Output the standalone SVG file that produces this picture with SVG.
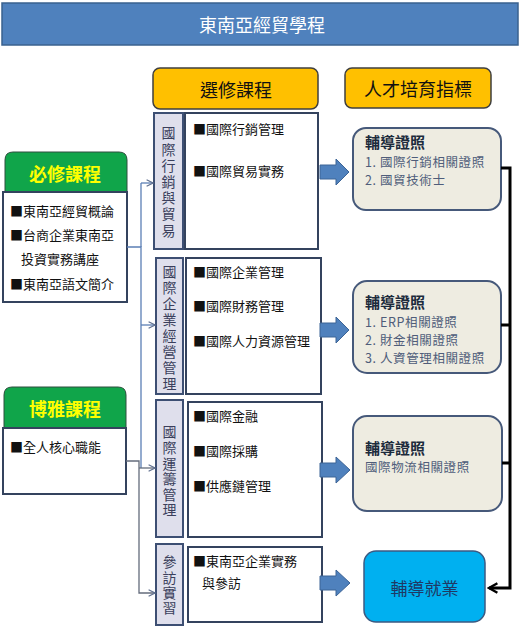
<svg xmlns="http://www.w3.org/2000/svg" width="527" height="631" viewBox="0 0 527 631">
<defs>
<style>
text{font-family:"Noto Sans CJK TC","Noto Sans CJK SC",sans-serif;}
.head{fill:#FFC000;stroke:#3f3f3f;stroke-width:1.5;}
.headt{font-size:18px;fill:#111;text-anchor:middle;dominant-baseline:central;}
.green{fill:#10A54A;stroke:#2f4f3f;stroke-width:1;}
.greent{font-size:18px;font-weight:bold;fill:#FFFF00;text-anchor:middle;dominant-baseline:central;}
.box{fill:#fff;stroke:#34435e;stroke-width:2;}
.lab{fill:#DFDFEC;stroke:#3d4f73;stroke-width:2;}
.labt{font-size:14px;fill:#3b3f5c;writing-mode:vertical-rl;text-anchor:start;}
.item{font-size:13px;fill:#111;dominant-baseline:central;}
.cert{fill:#EEECE1;stroke:#46597a;stroke-width:2;}
.certh{font-size:15px;font-weight:bold;fill:#1c2b3c;dominant-baseline:central;}
.certt{font-size:12.5px;letter-spacing:0.6px;fill:#4f5d7a;dominant-baseline:central;}
.barrow{fill:#4F81BD;stroke:#3c6496;stroke-width:1;}
.thin{fill:none;stroke-width:1.3;}
</style>
<marker id="open" viewBox="0 0 10 10" refX="9" refY="5" markerWidth="8" markerHeight="8" markerUnits="userSpaceOnUse" orient="auto">
<path d="M1,1 L9,5 L1,9" fill="none" stroke="#5f6f8f" stroke-width="1.4"/>
</marker>
<marker id="blk" viewBox="0 0 10 10" refX="8" refY="5" markerWidth="4" markerHeight="4" orient="auto">
<path d="M1,1 L8,5 L1,9" fill="none" stroke="#000" stroke-width="2"/>
</marker>
</defs>

<g id="title">
<rect x="2" y="3" width="516" height="42" fill="#4F81BD" stroke="#3a628f" stroke-width="1.5"/>
<text x="262" y="24" font-size="18" fill="#fff" text-anchor="middle" dominant-baseline="central">東南亞經貿學程</text>
</g>

<g id="elective-header">
<rect class="head" x="153" y="68" width="165" height="41" rx="7"/>
<text class="headt" x="236" y="89">選修課程</text>
</g>
<g id="talent-header">
<rect class="head" x="345" y="68" width="146" height="40" rx="7"/>
<text class="headt" x="418" y="88">人才培育指標</text>
</g>

<g id="required">
<path class="green" d="M5,192 L5,160 Q5,152 13,152 L119,152 Q127,152 127,160 L127,192 Z"/>
<text class="greent" x="65" y="173">必修課程</text>
<rect class="box" x="3" y="192" width="124" height="110"/>
<text class="item" x="10" y="210">■東南亞經貿概論</text>
<text class="item" x="10" y="234">■台商企業東南亞</text>
<text class="item" x="21" y="258">投資實務講座</text>
<text class="item" x="10" y="283">■東南亞語文簡介</text>
</g>

<g id="general">
<path class="green" d="M4,428 L4,395 Q4,387 12,387 L118,387 Q126,387 126,395 L126,428 Z"/>
<text class="greent" x="65" y="408">博雅課程</text>
<rect class="box" x="3" y="428" width="123" height="66"/>
<text class="item" x="10" y="446">■全人核心職能</text>
</g>

<g id="group-marketing">
<rect class="lab" x="154" y="113" width="29" height="136"/>
<text class="labt" x="168.5" y="126" letter-spacing="2.2">國際行銷與貿易</text>
<rect class="box" x="185" y="113" width="133" height="136"/>
<text class="item" x="193" y="128">■國際行銷管理</text>
<text class="item" x="193" y="170">■國際貿易實務</text>
</g>

<g id="group-business">
<rect class="lab" x="156" y="258" width="27" height="136"/>
<text class="labt" x="169.5" y="265" letter-spacing="1.9">國際企業經營管理</text>
<rect class="box" x="186" y="258" width="135" height="136"/>
<text class="item" x="193" y="271">■國際企業管理</text>
<text class="item" x="193" y="305">■國際財務管理</text>
<text class="item" x="193" y="340">■國際人力資源管理</text>
</g>

<g id="group-logistics">
<rect class="lab" x="156" y="400" width="27" height="137"/>
<text class="labt" x="169.5" y="425" letter-spacing="1.6">國際運籌管理</text>
<rect class="box" x="188" y="402" width="134" height="135"/>
<text class="item" x="193" y="415">■國際金融</text>
<text class="item" x="193" y="450">■國際採購</text>
<text class="item" x="193" y="485">■供應鏈管理</text>
</g>

<g id="group-visit">
<rect class="lab" x="156" y="544" width="27" height="81"/>
<text class="labt" x="169.5" y="555" letter-spacing="1.3">參訪實習</text>
<rect class="box" x="188" y="547" width="134" height="75"/>
<text class="item" x="193" y="560">■東南亞企業實務</text>
<text class="item" x="202" y="582">與參訪</text>
</g>

<g id="cert-1">
<rect class="cert" x="353" y="128" width="148" height="82" rx="13"/>
<text class="certh" x="365" y="141">輔導證照</text>
<text class="certt" x="365" y="161">1. 國際行銷相關證照</text>
<text class="certt" x="365" y="179.3">2. 國貿技術士</text>
</g>
<g id="cert-2">
<rect class="cert" x="353" y="281" width="148" height="92" rx="14"/>
<text class="certh" x="365" y="301">輔導證照</text>
<text class="certt" x="365" y="321">1. ERP相關證照</text>
<text class="certt" x="365" y="339.3">2. 財金相關證照</text>
<text class="certt" x="365" y="357.6">3. 人資管理相關證照</text>
</g>
<g id="cert-3">
<rect class="cert" x="353" y="416" width="149" height="95" rx="14"/>
<text class="certh" x="365" y="447">輔導證照</text>
<text class="certt" x="365" y="466">國際物流相關證照</text>
</g>
<g id="employment">
<rect x="364" y="551" width="121" height="71" rx="12" fill="#00B0F0" stroke="#3b5a82" stroke-width="1.5"/>
<text x="424.5" y="587" font-size="17" fill="#1f3864" text-anchor="middle" dominant-baseline="central">輔導就業</text>
</g>

<g id="connectors">
<path class="thin" stroke="#5b7fb5" d="M127,247 H141 V468"/>
<path class="thin" stroke="#5b7fb5" d="M141,183 H153" marker-end="url(#open)"/>
<path class="thin" stroke="#5b7fb5" d="M141,325 H155" marker-end="url(#open)"/>
<path class="thin" stroke="#5b7fb5" d="M141,247 V183"/>
<path class="thin" stroke="#646c7c" d="M126,461 H139 V593 H155" marker-end="url(#open)"/>
<path class="thin" stroke="#646c7c" d="M139,468 H155" marker-end="url(#open)"/>
<path class="barrow" d="M320,165 H336 V159 L349,172 L336,185 V179 H320 Z"/>
<path class="barrow" d="M320,323 H336 V317 L349,330 L336,343 V337 H320 Z"/>
<path class="barrow" d="M320,463 H336 V457 L350,470 L336,483 V477 H320 Z"/>
<path class="barrow" d="M320,576 H336 V570 L350,583 L336,596 V590 H320 Z"/>
<path fill="none" stroke="#000" stroke-width="3" d="M501,168 H510 V588 H489" marker-end="url(#blk)"/>
<path fill="none" stroke="#000" stroke-width="3" d="M501,325 H510"/>
<path fill="none" stroke="#000" stroke-width="3" d="M502,463 H510"/>
</g>
</svg>
